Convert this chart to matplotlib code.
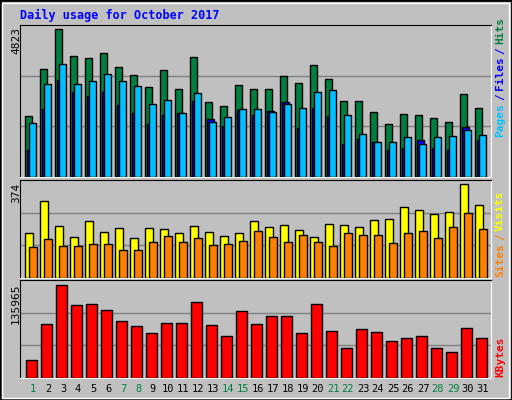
import numpy as np
import matplotlib
matplotlib.use("Agg")
import matplotlib.pyplot as plt
from matplotlib.patches import Rectangle

days = np.arange(1, 32)
hits = [1950, 3413, 4685, 3827, 3763, 3922, 3477, 3222, 2841, 3381, 2777, 3795, 2364, 2237, 2904, 2777,
        2777, 3191, 2968, 3540, 3095, 2396, 2427, 2078, 1696, 2014, 1982, 1887, 1760, 2618, 2205]
files = [1728, 2936, 3572, 2936, 3032, 3254, 3032, 2873, 2332, 2459, 2046, 2650, 1760, 1919, 2173, 2173,
         2078, 2332, 2205, 2682, 2745, 1982, 1378, 1124, 1124, 1283, 1060, 1283, 1314, 1505, 1346]
pages = [869, 2173, 3063, 2682, 2555, 2682, 2300, 2046, 1696, 1982, 2046, 2396, 1855, 1632, 2141, 1982,
         2109, 2364, 1569, 2205, 1950, 1060, 1219, 1124, 869, 933, 1187, 933, 869, 1601, 1187]
visits = [172, 294, 198, 156, 217, 176, 191, 153, 191, 187, 172, 198, 176, 160, 172, 217,
          195, 202, 183, 156, 206, 202, 195, 221, 225, 271, 259, 244, 252, 359, 279]
sites = [118, 149, 122, 122, 130, 130, 107, 107, 137, 160, 137, 153, 126, 130, 141, 179,
         156, 137, 164, 137, 122, 172, 164, 164, 134, 172, 179, 153, 195, 248, 187]
kbytes = [24700, 75500, 129100, 101600, 103000, 94800, 79700, 72800, 61800, 76900, 76900, 105800, 74200,
          57700, 93400, 75500, 86500, 86500, 61800, 103000, 64600, 41200, 67300, 63200, 50800, 54900,
          57700, 41200, 35700, 70000, 54900]
weekends = [1, 7, 8, 14, 15, 21, 22, 28, 29]
max_hits, max_visits, max_kb = 4823, 374, 135965

W, H = 512, 400
BG = "#C0C0C0"
MONO = "DejaVu Sans Mono"

fig = plt.figure(figsize=(W / 100, H / 100), dpi=100, facecolor=BG)

# outer border
fig.patches.append(Rectangle((0, 0), 1, 1, transform=fig.transFigure, fill=False, ec="black", lw=2))
fig.patches.append(Rectangle((2 / W, 2 / H), 1 - 5 / W, 1 - 5 / H, transform=fig.transFigure,
                             fill=False, ec="white", lw=1))


def panel(y0, y1):
    ax = fig.add_axes([20 / W, 1 - y1 / H, 471 / W, (y1 - y0) / H])
    ax.set_facecolor(BG)
    ax.set_xlim((20 - 25) / 15 + 1, (491 - 25) / 15 + 1)
    ax.set_xticks([])
    ax.set_yticks([])
    for s in ["left", "top"]:
        ax.spines[s].set_color("black")
    for s in ["right", "bottom"]:
        ax.spines[s].set_color("white")
    return ax


def bars(ax, off, width, vals, color):
    ax.bar(days + off / 15, vals, width=width / 15, align="edge", color=color,
           edgecolor="black", linewidth=1, zorder=3)


# top: hits / files / pages
ax1 = panel(25, 177)
ax1.set_ylim(0, max_hits)
for g in (1 / 3, 2 / 3):
    ax1.axhline(max_hits * g, color="#808080", lw=1, zorder=1)
bars(ax1, 0, 7, hits, "#008040")
bars(ax1, 2, 7, pages, "#0000FF")
bars(ax1, 4, 7, files, "#00C0FF")

# middle: visits / sites
ax2 = panel(180, 278)
ax2.set_ylim(0, max_visits)
for g in (1 / 3, 2 / 3):
    ax2.axhline(max_visits * g, color="#808080", lw=1, zorder=1)
bars(ax2, 0, 8, visits, "#FFFF00")
bars(ax2, 4, 8, sites, "#FF8000")

# bottom: kbytes
ax3 = panel(280, 378)
ax3.set_ylim(0, max_kb)
for g in (1 / 3, 2 / 3):
    ax3.axhline(max_kb * g, color="#808080", lw=1, zorder=1)
bars(ax3, 1, 11, kbytes, "#FF0000")


def px(x, y):
    return x / W, 1 - y / H


fig.text(*px(20, 15), "Daily usage for October 2017", color="#0000FF", family=MONO,
         fontweight="bold", fontsize=8.5, va="center", ha="left")

for y, txt in [(27, f"{max_hits}"), (183, f"{max_visits}"), (283, f"{max_kb}")]:
    fig.text(*px(16, y), txt, rotation=90, family=MONO, fontsize=8, va="top", ha="center")

renderer = fig.canvas.get_renderer()


# right-side labels, stacked bottom to top using measured extents
def side(y_bottom, parts):
    y = y_bottom
    for txt, col in parts:
        t = fig.text(*px(500, y), txt, rotation=90, family=MONO, fontweight="bold",
                     fontsize=8, color=col, va="bottom", ha="center")
        y -= t.get_window_extent(renderer).height + 3


side(137, [("Pages", "#00C0FF"), ("/", "#0000FF"), ("Files", "#0000FF"), ("/", "#0000FF"), ("Hits", "#008040")])
side(277, [("Sites", "#FF8000"), ("/", "#FF8000"), ("Visits", "#FFFF00")])
side(377, [("KBytes", "#FF0000")])

for d in days:
    col = "#008040" if d in weekends else "black"
    fig.text(*px(25 + 15 * (d - 1) + 8, 389), str(d), color=col, family=MONO,
             fontsize=7.5, ha="center", va="center")

fig.savefig("out.png", dpi=100, facecolor=BG)
